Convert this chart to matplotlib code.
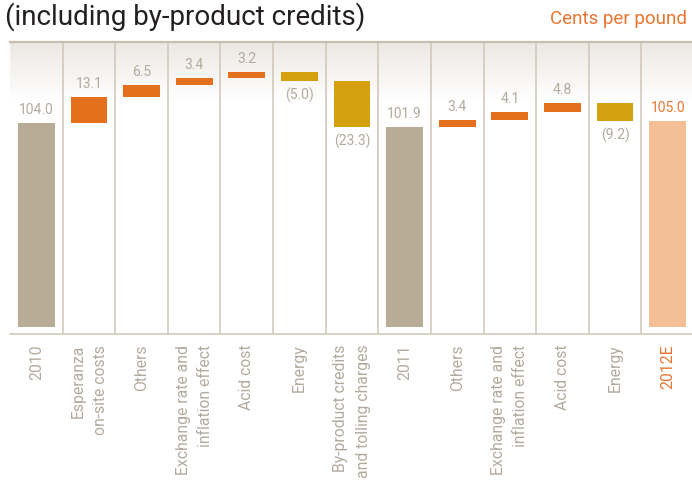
import numpy as np
import matplotlib
matplotlib.use("Agg")
import matplotlib.pyplot as plt

plt.rcParams["font.family"] = ["Roboto", "DejaVu Sans"]
plt.rcParams["font.weight"] = "light"

categories = ["2010", "Esperanza\non-site costs", "Others", "Exchange rate and\ninflation effect",
              "Acid cost", "Energy", "By-product credits\nand tolling charges", "2011", "Others",
              "Exchange rate and\ninflation effect", "Acid cost", "Energy", "2012E"]
values = [104.0, 13.1, 6.5, 3.4, 3.2, -5.0, -23.3, 101.9, 3.4, 4.1, 4.8, -9.2, 105.0]
is_total = [True, False, False, False, False, False, False, True, False, False, False, False, True]

c_total = "#b8ac96"
c_up = "#e4701e"
c_down = "#d4a00e"
c_est = "#f4bf95"
c_text = "#b3aa9e"
c_orange = "#ea7430"
c_line = "#d2c9bb"

fig = plt.figure(figsize=(6.92, 4.85), dpi=100)
ax = fig.add_axes([10 / 692, 150 / 485, 684 / 692, 292 / 485])

x = np.arange(len(values))
bottoms = []
heights = []
colors = []
running = 0
for i, v in enumerate(values):
    if is_total[i]:
        bottoms.append(0)
        heights.append(v)
        running = v
        colors.append(c_est if categories[i] == "2012E" else c_total)
    else:
        bottoms.append(running if v > 0 else running + v)
        heights.append(abs(v))
        running += v
        colors.append(c_up if v > 0 else c_down)

ymin, ymax = -3.6, 145.3
# light gradient at the top of the panel
grad = np.linspace(0, 1, 200).reshape(-1, 1)
grad = np.clip((grad - 0.8) / 0.2, 0, 1)
top_col = np.array([0.925, 0.91, 0.89])
rgb = np.ones((200, 1, 3)) * (1 - grad[..., None]) + top_col * grad[..., None]
ax.imshow(rgb, extent=[-0.5, 12.5, ymin, ymax], aspect="auto", origin="lower", zorder=0)

ax.bar(x, heights, bottom=bottoms, width=0.7, color=colors, zorder=2)

for i, v in enumerate(values):
    txt = f"{v:.1f}" if v >= 0 else f"({abs(v):.1f})"
    col = c_orange if categories[i] == "2012E" else c_text
    if v >= 0:
        ax.annotate(txt, (i, bottoms[i] + heights[i]), xytext=(0, 5), textcoords="offset points",
                    ha="center", va="bottom", color=col, fontsize=10, fontweight="normal")
    else:
        ax.annotate(txt, (i, bottoms[i]), xytext=(0, -4), textcoords="offset points",
                    ha="center", va="top", color=col, fontsize=10, fontweight="normal")

for i in range(len(values) - 1):
    ax.axvline(i + 0.5, color=c_line, lw=1.2, zorder=1)

ax.set_xlim(-0.5, 12.5)
ax.set_ylim(ymin, ymax)
for s in ["left", "right"]:
    ax.spines[s].set_visible(False)
ax.spines["top"].set_color("#c9bfb0")
ax.spines["top"].set_linewidth(1.6)
ax.spines["bottom"].set_color(c_line)
ax.spines["bottom"].set_linewidth(1.2)
ax.set_yticks([])
ax.set_xticks(x)
ax.set_xticklabels(categories, rotation=90, ha="center", va="top", multialignment="right",
                   fontsize=11.3, color=c_text, fontweight="normal")
for t in ax.get_xticklabels():
    t.set_linespacing(1.6)
ax.get_xticklabels()[-1].set_color(c_orange)
ax.tick_params(axis="x", length=0, pad=7)

fig.text(5 / 692, 1 - 2 / 485, "(including by-product credits)", ha="left", va="top",
         fontsize=20, color="#231f20", fontweight="normal")
fig.text(687 / 692, 1 - 10 / 485, "Cents per pound", ha="right", va="top",
         fontsize=13.5, color=c_orange, fontweight="normal")

fig.savefig("out.png", dpi=100)
